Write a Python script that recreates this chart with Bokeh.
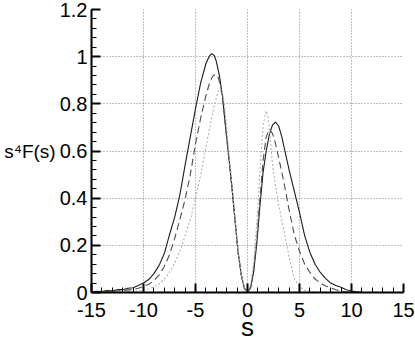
from bokeh.plotting import figure
from bokeh.models import FixedTicker
from bokeh.embed import file_html
from bokeh.resources import INLINE

# ---- data ----
s_solid = [-15, -14.5, -14, -13.5, -13, -12.5, -12, -11.5, -11, -10.5, -10, -9.5, -9, -8.5, -8, -7.5, -7, -6.5,
           -6, -5.5, -5, -4.5, -4, -3.7, -3.45, -3.2, -3.0, -2.7, -2.4, -2.1, -1.8, -1.5, -1.2, -0.9, -0.6, -0.3,
           0, 0.3, 0.6, 0.9, 1.2, 1.5, 1.8, 2.1, 2.4, 2.7, 3.0, 3.3, 3.6, 4.0, 4.5, 5.0, 5.5, 6.0, 6.5, 7.0,
           7.5, 8.0, 8.5, 9.0, 9.5, 10.0, 10.5, 11, 12, 13, 14, 15]
f_solid = [0.003, 0.005, 0.004, 0.008, 0.007, 0.012, 0.012, 0.018, 0.02, 0.03, 0.04, 0.055, 0.08, 0.115, 0.165,
           0.245, 0.32, 0.415, 0.54, 0.66, 0.78, 0.89, 0.97, 1.0, 1.013, 1.005, 0.98, 0.92, 0.83, 0.7, 0.575,
           0.45, 0.31, 0.17, 0.075, 0.018, 0.0, 0.02, 0.09, 0.21, 0.37, 0.51, 0.6, 0.67, 0.71, 0.723, 0.705,
           0.66, 0.6, 0.52, 0.43, 0.34, 0.24, 0.17, 0.12, 0.085, 0.06, 0.04, 0.03, 0.022, 0.012, 0.006, 0.003,
           0.001, 0.0, 0.0, 0.0, 0.0]

s_dashed = [-15, -14, -13, -12, -11, -10.5, -10, -9.5, -9, -8.5, -8, -7.5, -7, -6.5, -6, -5.5, -5, -4.5, -4,
            -3.6, -3.3, -3.0, -2.8, -2.6, -2.4, -2.1, -1.8, -1.5, -1.2, -0.9, -0.6, -0.3, 0, 0.3, 0.6, 0.9,
            1.2, 1.5, 1.8, 2.1, 2.4, 2.7, 3.0, 3.3, 3.6, 4.0, 4.5, 5.0, 5.5, 6.0, 6.5, 7.0, 7.5, 8.0, 8.5,
            9.0, 9.5, 10, 11, 12, 13, 14, 15]
f_dashed = [0.002, 0.003, 0.005, 0.008, 0.013, 0.018, 0.025, 0.035, 0.05, 0.075, 0.11, 0.16, 0.23, 0.31, 0.395,
            0.5, 0.63, 0.74, 0.835, 0.895, 0.92, 0.925, 0.91, 0.875, 0.825, 0.7, 0.57, 0.445, 0.305, 0.17,
            0.075, 0.018, 0.0, 0.022, 0.1, 0.23, 0.4, 0.56, 0.66, 0.69, 0.675, 0.63, 0.57, 0.51, 0.445, 0.35,
            0.245, 0.175, 0.12, 0.085, 0.057, 0.04, 0.028, 0.02, 0.012, 0.006, 0.002, 0.001, 0.0, 0.0, 0.0,
            0.0, 0.0]

s_dotted = [-15, -14, -13, -12, -11, -10.5, -10, -9.5, -9, -8.5, -8, -7.5, -7, -6.5, -6, -5.5, -5, -4.5, -4,
            -3.5, -3.1, -2.8, -2.6, -2.4, -2.2, -2.0, -1.8, -1.5, -1.2, -0.9, -0.6, -0.3, 0, 0.3, 0.6, 0.9,
            1.2, 1.5, 1.8, 2.0, 2.2, 2.4, 2.7, 3.0, 3.5, 4.0, 4.5, 5.0, 5.5, 6.0, 6.5, 7, 8, 9, 10, 11, 12,
            13, 14, 15]
f_dotted = [0.0, 0.001, 0.002, 0.003, 0.005, 0.007, 0.01, 0.015, 0.024, 0.036, 0.055, 0.085, 0.125, 0.175, 0.24,
            0.31, 0.4, 0.5, 0.615, 0.73, 0.81, 0.855, 0.865, 0.845, 0.79, 0.7, 0.6, 0.46, 0.315, 0.175, 0.077,
            0.019, 0.0, 0.03, 0.13, 0.3, 0.52, 0.71, 0.77, 0.74, 0.64, 0.545, 0.45, 0.37, 0.265, 0.15, 0.06,
            0.025, 0.01, 0.004, 0.001, 0.0, 0.0, 0.0, 0.0, 0.0, 0.0, 0.0, 0.0, 0.0]

x_ticks = [-15, -10, -5, 0, 5, 10, 15]
x_tick_labels = ["-15", "-10", "-5", "0", "5", "10", "15"]
y_ticks = [0.0, 0.2, 0.4, 0.6, 0.8, 1.0, 1.2]
y_tick_labels = ["0", "0.2", "0.4", "0.6", "0.8", "1", "1.2"]
x_label = "s"
y_label = "s\u2074F(s)"

x_minor = list(range(-15, 16))
y_minor = [round(i * 0.04, 2) for i in range(31)]

FONT = "Liberation Sans"

p = figure(width=415, height=344, x_range=(-15, 15), y_range=(0, 1.2),
           output_backend="svg", toolbar_location=None,
           min_border_left=91, min_border_right=12, min_border_top=9, min_border_bottom=51)
p.outline_line_color = None
p.background_fill_color = "white"
p.border_fill_color = "white"

xt = FixedTicker(ticks=x_ticks, minor_ticks=x_minor)
yt = FixedTicker(ticks=y_ticks, minor_ticks=y_minor)
p.xaxis.ticker = xt
p.yaxis.ticker = yt
p.xgrid.ticker = xt
p.ygrid.ticker = yt
p.xaxis.major_label_overrides = dict(zip(x_ticks, x_tick_labels))
p.yaxis.major_label_overrides = dict(zip(y_ticks, y_tick_labels))

for ax in (p.xaxis, p.yaxis):
    ax.axis_line_width = 2
    ax.axis_line_color = "black"
    ax.major_tick_in = 9
    ax.major_tick_out = 0
    ax.minor_tick_in = 5
    ax.minor_tick_out = 0
    ax.major_tick_line_width = 2
    ax.major_tick_line_color = "black"
    ax.minor_tick_line_color = "black"
    ax.minor_tick_line_width = 1
    ax.major_label_text_font = FONT
    ax.major_label_text_font_size = "20px"
    ax.major_label_text_color = "black"
    ax.axis_label_text_font = FONT
    ax.axis_label_text_font_style = "normal"
    ax.axis_label_text_color = "black"
p.xaxis.major_label_standoff = 10
p.yaxis.major_label_standoff = 4

p.xaxis.axis_label = x_label
p.xaxis.axis_label_text_font_size = "26px"
p.xaxis.axis_label_standoff = -8

p.yaxis.axis_label = y_label
p.yaxis.axis_label_orientation = "horizontal"
p.yaxis.axis_label_text_font_size = "19px"
p.yaxis.axis_label_standoff = 1

for g in (p.xgrid, p.ygrid):
    g.grid_line_color = "#808080"
    g.grid_line_dash = "1 2"
    g.grid_line_width = 1

p.line(s_solid, f_solid, line_color="#1a1a1a", line_width=1.1)
p.line(s_dashed, f_dashed, line_color="#4d4d4d", line_width=1.1, line_dash="7 4")
p.line(s_dotted, f_dotted, line_color="#b0b0b0", line_width=1.1, line_dash="2 2")

open("out.html", "w").write(file_html(p, INLINE))
